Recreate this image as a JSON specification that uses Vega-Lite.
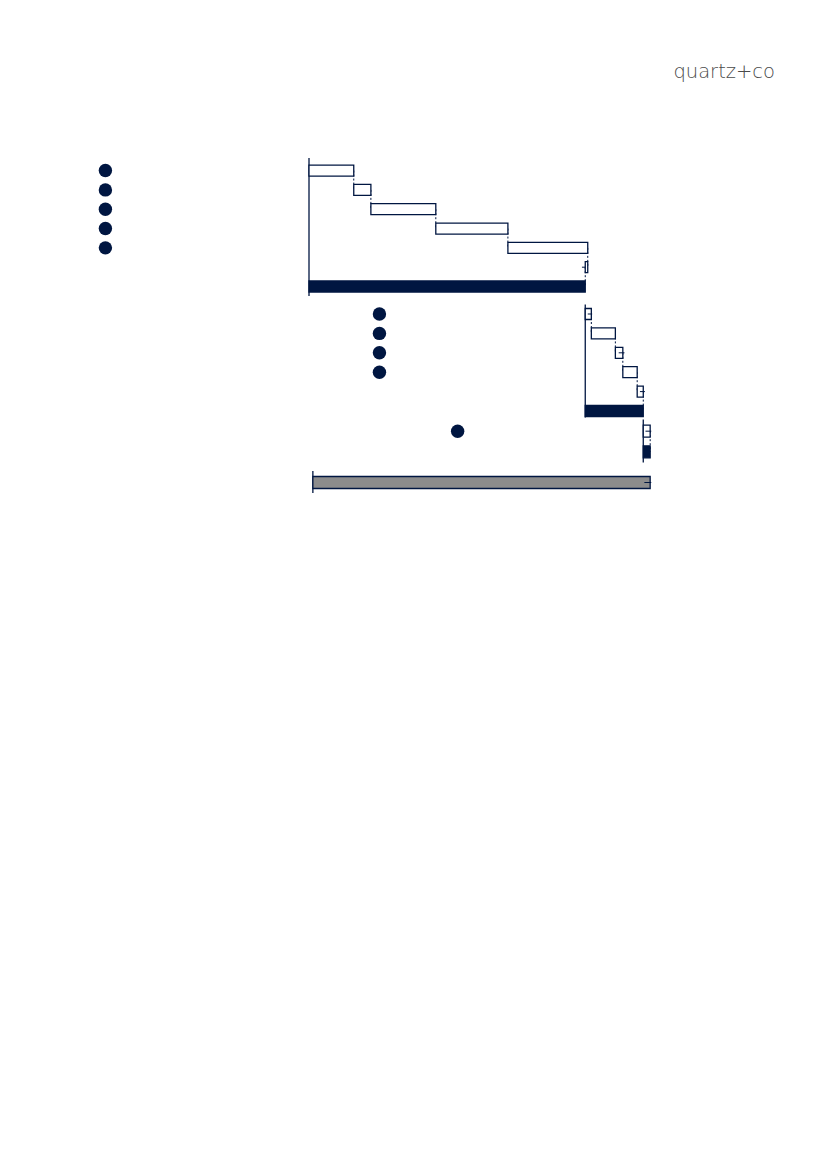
{
  "$schema": "https://vega.github.io/schema/vega-lite/v6.json",
  "padding": {"left": 88, "top": 62, "right": 0, "bottom": 0},
  "title": {
    "text": "quartz+co",
    "anchor": "end",
    "font": "DejaVu Sans",
    "fontSize": 19.5,
    "fontWeight": 200,
    "color": "#4a4a4a",
    "offset": 74.5,
    "dx": 3
  },
  "datasets": {
    "steps": [
      {"section": 1, "step": 1, "kind": "delta", "start": 0, "end": 16.2, "next": 2, "badge": -73.7},
      {"section": 1, "step": 2, "kind": "delta", "start": 16.2, "end": 22.4, "next": 3, "badge": -73.7},
      {"section": 1, "step": 3, "kind": "delta", "start": 22.4, "end": 45.9, "next": 4, "badge": -73.7},
      {"section": 1, "step": 4, "kind": "delta", "start": 45.9, "end": 72.0, "next": 5, "badge": -73.7},
      {"section": 1, "step": 5, "kind": "delta", "start": 72.0, "end": 100.9, "next": 6, "badge": -73.7},
      {"section": 1, "step": 6, "kind": "delta", "start": 100.9, "end": 100.0, "next": 7, "lo": 98.8, "hi": 100.0},
      {"section": 1, "step": 7, "kind": "total", "start": 0, "end": 100.0},
      {"section": 2, "step": 8, "kind": "delta", "start": 100.0, "end": 102.2, "next": 9, "lo": 100.9, "hi": 102.5, "badge": 25.5},
      {"section": 2, "step": 9, "kind": "delta", "start": 102.2, "end": 110.9, "next": 10, "badge": 25.5},
      {"section": 2, "step": 10, "kind": "delta", "start": 110.9, "end": 113.6, "next": 11, "lo": 112.1, "hi": 114.2, "badge": 25.5},
      {"section": 2, "step": 11, "kind": "delta", "start": 113.6, "end": 118.8, "next": 12, "badge": 25.5},
      {"section": 2, "step": 12, "kind": "delta", "start": 118.8, "end": 121.0, "next": 13, "lo": 119.8, "hi": 121.6},
      {"section": 2, "step": 13, "kind": "total", "start": 100.0, "end": 121.0},
      {"section": 3, "step": 14, "kind": "delta", "start": 121.0, "end": 123.5, "next": 15, "lo": 121.8, "hi": 123.9, "badge": 53.8},
      {"section": 3, "step": 15, "kind": "total", "start": 121.0, "end": 123.5},
      {"section": 4, "step": 16, "kind": "grand", "start": 1.4, "end": 123.5, "lo": 121.4, "hi": 123.9}
    ],
    "bases": [
      {"section": 1, "origin": 0},
      {"section": 2, "origin": 100.0},
      {"section": 3, "origin": 121.0},
      {"section": 4, "origin": 1.4}
    ]
  },
  "spacing": 6.5,
  "resolve": {"scale": {"y": "independent"}},
  "vconcat": [
    {
      "width": 684,
      "height": 138,
      "layer": [
        {
          "data": {"name": "bases"},
          "transform": [{"filter": "datum.section == 1"}],
          "mark": {"type": "rule", "color": "#001641", "strokeWidth": 1.3},
          "encoding": {
            "x": {"field": "origin", "type": "quantitative", "axis": null, "scale": {"domain": [-80, 167.6], "nice": false, "zero": false}}
          }
        },
        {
          "data": {"name": "steps"},
          "transform": [{"filter": "datum.section == 1 && isValid(datum.next)"}],
          "mark": {"type": "rule", "color": "#001641", "strokeWidth": 1, "strokeDash": [2, 2]},
          "encoding": {
            "x": {"field": "end", "type": "quantitative"},
            "y": {"field": "step", "type": "ordinal", "axis": null, "scale": {"paddingInner": 0.43, "paddingOuter": 0.285, "align": 0.64}},
            "y2": {"field": "next"}
          }
        },
        {
          "data": {"name": "steps"},
          "transform": [{"filter": "datum.section == 1"}],
          "mark": {"type": "bar", "stroke": "#001641", "strokeWidth": 1.3},
          "encoding": {
            "x": {"field": "start", "type": "quantitative"},
            "x2": {"field": "end"},
            "y": {"field": "step", "type": "ordinal"},
            "color": {"field": "kind", "type": "nominal", "legend": null, "scale": {"domain": ["delta", "total", "grand"], "range": ["#ffffff", "#001641", "#8c8c8c"]}}
          }
        },
        {
          "data": {"name": "steps"},
          "transform": [{"filter": "datum.section == 1 && isValid(datum.lo)"}],
          "mark": {"type": "rule", "color": "#001641", "strokeWidth": 1},
          "encoding": {
            "x": {"field": "lo", "type": "quantitative"},
            "x2": {"field": "hi"},
            "y": {"field": "step", "type": "ordinal"}
          }
        },
        {
          "data": {"name": "steps"},
          "transform": [{"filter": "datum.section == 1 && isValid(datum.badge)"}],
          "mark": {"type": "point", "filled": true, "size": 180, "opacity": 1, "color": "#001641"},
          "encoding": {
            "x": {"field": "badge", "type": "quantitative"},
            "y": {"field": "step", "type": "ordinal"}
          }
        }
      ]
    },
    {
      "spacing": 0,
      "resolve": {"scale": {"y": "independent"}},
      "vconcat": [
        {
          "width": 684,
          "height": 113,
          "layer": [
            {
              "data": {"name": "bases"},
              "transform": [{"filter": "datum.section == 2"}],
              "mark": {"type": "rule", "color": "#001641", "strokeWidth": 1.3},
              "encoding": {
                "x": {"field": "origin", "type": "quantitative", "axis": null, "scale": {"domain": [-80, 167.6], "nice": false, "zero": false}}
              }
            },
            {
              "data": {"name": "steps"},
              "transform": [{"filter": "datum.section == 2 && isValid(datum.next)"}],
              "mark": {"type": "rule", "color": "#001641", "strokeWidth": 1, "strokeDash": [2, 2]},
              "encoding": {
                "x": {"field": "end", "type": "quantitative"},
                "y": {"field": "step", "type": "ordinal", "axis": null, "scale": {"paddingInner": 0.433, "paddingOuter": 0.129, "align": 0.8}},
                "y2": {"field": "next"}
              }
            },
            {
              "data": {"name": "steps"},
              "transform": [{"filter": "datum.section == 2"}],
              "mark": {"type": "bar", "stroke": "#001641", "strokeWidth": 1.3},
              "encoding": {
                "x": {"field": "start", "type": "quantitative"},
                "x2": {"field": "end"},
                "y": {"field": "step", "type": "ordinal"},
                "color": {"field": "kind", "type": "nominal", "legend": null, "scale": {"domain": ["delta", "total", "grand"], "range": ["#ffffff", "#001641", "#8c8c8c"]}}
              }
            },
            {
              "data": {"name": "steps"},
              "transform": [{"filter": "datum.section == 2 && isValid(datum.lo)"}],
              "mark": {"type": "rule", "color": "#001641", "strokeWidth": 1},
              "encoding": {
                "x": {"field": "lo", "type": "quantitative"},
                "x2": {"field": "hi"},
                "y": {"field": "step", "type": "ordinal"}
              }
            },
            {
              "data": {"name": "steps"},
              "transform": [{"filter": "datum.section == 2 && isValid(datum.badge)"}],
              "mark": {"type": "point", "filled": true, "size": 180, "opacity": 1, "color": "#001641"},
              "encoding": {
                "x": {"field": "badge", "type": "quantitative"},
                "y": {"field": "step", "type": "ordinal"}
              }
            }
          ]
        },
        {
          "width": 684,
          "height": 43,
          "layer": [
            {
              "data": {"name": "bases"},
              "transform": [{"filter": "datum.section == 3"}],
              "mark": {"type": "rule", "color": "#001641", "strokeWidth": 1.3},
              "encoding": {
                "x": {"field": "origin", "type": "quantitative", "axis": null, "scale": {"domain": [-80, 167.6], "nice": false, "zero": false}}
              }
            },
            {
              "data": {"name": "steps"},
              "transform": [{"filter": "datum.section == 3 && isValid(datum.next)"}],
              "mark": {"type": "rule", "color": "#001641", "strokeWidth": 1, "strokeDash": [2, 2]},
              "encoding": {
                "x": {"field": "end", "type": "quantitative"},
                "y": {"field": "step", "type": "ordinal", "axis": null, "scale": {"paddingInner": 0.42, "paddingOuter": 0.25, "align": 0.55}},
                "y2": {"field": "next"}
              }
            },
            {
              "data": {"name": "steps"},
              "transform": [{"filter": "datum.section == 3"}],
              "mark": {"type": "bar", "stroke": "#001641", "strokeWidth": 1.3},
              "encoding": {
                "x": {"field": "start", "type": "quantitative"},
                "x2": {"field": "end"},
                "y": {"field": "step", "type": "ordinal"},
                "color": {"field": "kind", "type": "nominal", "legend": null, "scale": {"domain": ["delta", "total", "grand"], "range": ["#ffffff", "#001641", "#8c8c8c"]}}
              }
            },
            {
              "data": {"name": "steps"},
              "transform": [{"filter": "datum.section == 3 && isValid(datum.lo)"}],
              "mark": {"type": "rule", "color": "#001641", "strokeWidth": 1},
              "encoding": {
                "x": {"field": "lo", "type": "quantitative"},
                "x2": {"field": "hi"},
                "y": {"field": "step", "type": "ordinal"}
              }
            },
            {
              "data": {"name": "steps"},
              "transform": [{"filter": "datum.section == 3 && isValid(datum.badge)"}],
              "mark": {"type": "point", "filled": true, "size": 180, "opacity": 1, "color": "#001641"},
              "encoding": {
                "x": {"field": "badge", "type": "quantitative"},
                "y": {"field": "step", "type": "ordinal"}
              }
            }
          ]
        }
      ]
    },
    {
      "width": 684,
      "height": 22,
      "layer": [
        {
          "data": {"name": "bases"},
          "transform": [{"filter": "datum.section == 4"}],
          "mark": {"type": "rule", "color": "#001641", "strokeWidth": 1.3},
          "encoding": {
            "x": {"field": "origin", "type": "quantitative", "axis": null, "scale": {"domain": [-80, 167.6], "nice": false, "zero": false}}
          }
        },
        {
          "data": {"name": "steps"},
          "transform": [{"filter": "datum.section == 4"}],
          "mark": {"type": "bar", "stroke": "#001641", "strokeWidth": 1.3},
          "encoding": {
            "x": {"field": "start", "type": "quantitative"},
            "x2": {"field": "end"},
            "y": {"field": "step", "type": "ordinal", "axis": null, "scale": {"paddingInner": 0, "paddingOuter": 0.417, "align": 0.55}},
            "color": {"field": "kind", "type": "nominal", "legend": null, "scale": {"domain": ["delta", "total", "grand"], "range": ["#ffffff", "#001641", "#8c8c8c"]}}
          }
        },
        {
          "data": {"name": "steps"},
          "transform": [{"filter": "datum.section == 4 && isValid(datum.lo)"}],
          "mark": {"type": "rule", "color": "#001641", "strokeWidth": 1},
          "encoding": {
            "x": {"field": "lo", "type": "quantitative"},
            "x2": {"field": "hi"},
            "y": {"field": "step", "type": "ordinal"}
          }
        }
      ]
    }
  ],
  "config": {
    "view": {"stroke": null}
  }
}
